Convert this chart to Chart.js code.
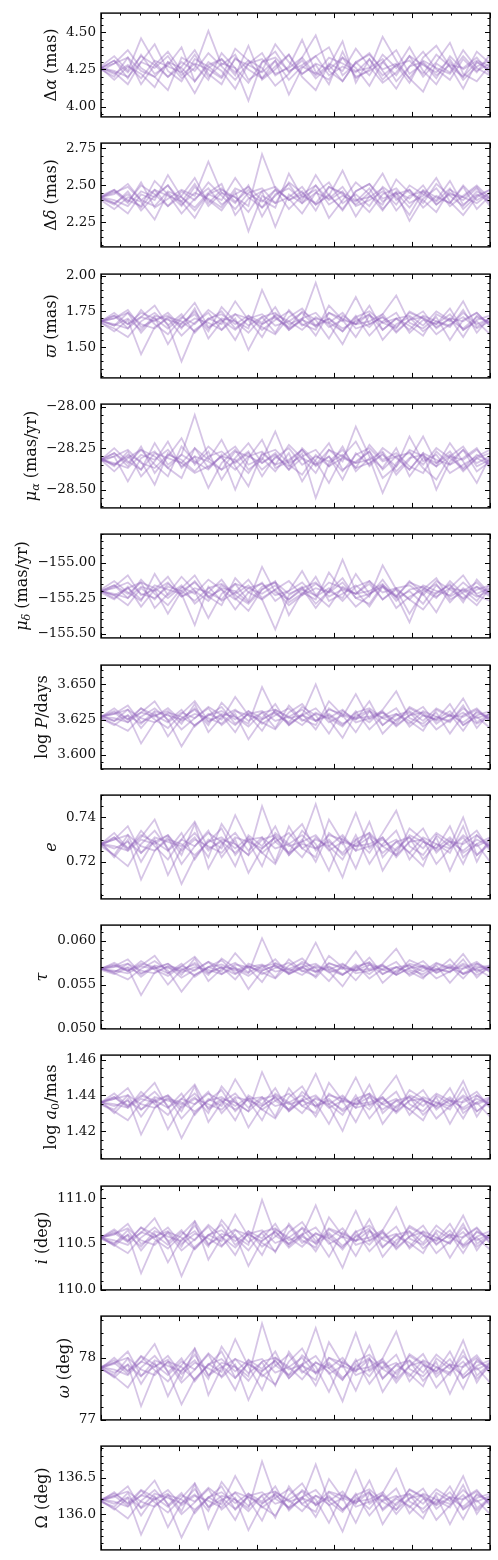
<!DOCTYPE html>
<html>
<head>
<meta charset="utf-8">
<script src="https://cdn.jsdelivr.net/npm/chart.js@4.4.0/dist/chart.umd.min.js"></script>
<style>
  body { margin: 0; background: #fff; }
  canvas { position: absolute; left: 0; }
</style>
</head>
<body>
<script>
// step numbers along the chain (x axis)
const steps = [0, 34, 69, 103, 138, 172, 207, 241, 276, 310, 345, 379, 414, 448, 483, 517, 552, 586, 621, 655, 690, 724, 759, 793, 828, 862, 897, 931, 966, 1000];

////////////////////////////// walkers, one array per walker
const dAlpha = [
  [4.26, 4.31, 4.19, 4.35, 4.22, 4.28, 4.40, 4.17, 4.30, 4.24, 4.12, 4.29, 4.36, 4.21, 4.27, 4.45, 4.23, 4.18, 4.33, 4.26, 4.14, 4.30, 4.38, 4.22, 4.29, 4.19, 4.34, 4.25, 4.31, 4.27],
  [4.25, 4.20, 4.33, 4.15, 4.28, 4.37, 4.24, 4.09, 4.26, 4.32, 4.21, 4.41, 4.18, 4.25, 4.35, 4.20, 4.11, 4.29, 4.24, 4.39, 4.27, 4.16, 4.23, 4.34, 4.20, 4.30, 4.43, 4.22, 4.17, 4.28],
  [4.27, 4.34, 4.24, 4.46, 4.30, 4.20, 4.27, 4.38, 4.22, 4.15, 4.33, 4.25, 4.19, 4.31, 4.08, 4.26, 4.34, 4.40, 4.21, 4.29, 4.36, 4.24, 4.12, 4.27, 4.37, 4.25, 4.18, 4.32, 4.23, 4.35],
  [4.26, 4.18, 4.27, 4.22, 4.13, 4.30, 4.19, 4.26, 4.51, 4.28, 4.35, 4.18, 4.24, 4.42, 4.30, 4.22, 4.28, 4.15, 4.37, 4.19, 4.25, 4.47, 4.31, 4.19, 4.10, 4.29, 4.23, 4.38, 4.26, 4.21],
  [4.24, 4.29, 4.38, 4.26, 4.20, 4.11, 4.33, 4.28, 4.18, 4.36, 4.26, 4.04, 4.30, 4.37, 4.23, 4.31, 4.19, 4.27, 4.44, 4.16, 4.32, 4.21, 4.28, 4.16, 4.33, 4.41, 4.27, 4.12, 4.30, 4.24],
  [4.26, 4.23, 4.15, 4.30, 4.42, 4.24, 4.17, 4.32, 4.27, 4.20, 4.39, 4.31, 4.26, 4.14, 4.22, 4.33, 4.48, 4.24, 4.17, 4.30, 4.21, 4.35, 4.26, 4.40, 4.24, 4.15, 4.30, 4.20, 4.37, 4.29],
  [4.26, 4.31, 4.23, 4.34, 4.28, 4.20, 4.30, 4.24, 4.36, 4.27, 4.18, 4.29, 4.32, 4.22, 4.26, 4.33, 4.21, 4.28, 4.17, 4.30, 4.35, 4.25, 4.29, 4.19, 4.31, 4.26, 4.22, 4.34, 4.24, 4.29],
  [4.26, 4.22, 4.28, 4.19, 4.31, 4.27, 4.23, 4.35, 4.20, 4.29, 4.26, 4.16, 4.30, 4.33, 4.24, 4.28, 4.34, 4.21, 4.27, 4.23, 4.32, 4.18, 4.28, 4.31, 4.22, 4.35, 4.27, 4.20, 4.30, 4.25],
  [4.26, 4.29, 4.33, 4.24, 4.20, 4.30, 4.26, 4.17, 4.28, 4.32, 4.23, 4.31, 4.19, 4.27, 4.35, 4.22, 4.29, 4.25, 4.33, 4.20, 4.24, 4.30, 4.21, 4.34, 4.28, 4.23, 4.32, 4.18, 4.27, 4.31],
  [4.26, 4.24, 4.20, 4.30, 4.26, 4.34, 4.21, 4.29, 4.25, 4.19, 4.32, 4.28, 4.23, 4.31, 4.18, 4.27, 4.22, 4.33, 4.29, 4.24, 4.26, 4.32, 4.17, 4.27, 4.30, 4.21, 4.28, 4.26, 4.33, 4.22]
];
const dDelta = [
  [2.41, 2.37, 2.46, 2.33, 2.43, 2.50, 2.39, 2.28, 2.44, 2.40, 2.55, 2.42, 2.35, 2.47, 2.41, 2.31, 2.45, 2.52, 2.38, 2.44, 2.36, 2.49, 2.42, 2.30, 2.46, 2.40, 2.53, 2.37, 2.44, 2.39],
  [2.42, 2.46, 2.38, 2.52, 2.35, 2.41, 2.47, 2.43, 2.66, 2.45, 2.38, 2.50, 2.29, 2.44, 2.48, 2.40, 2.57, 2.43, 2.34, 2.46, 2.51, 2.39, 2.45, 2.26, 2.41, 2.48, 2.36, 2.43, 2.50, 2.41],
  [2.40, 2.34, 2.42, 2.39, 2.27, 2.45, 2.36, 2.49, 2.40, 2.33, 2.46, 2.19, 2.43, 2.38, 2.52, 2.45, 2.37, 2.43, 2.60, 2.41, 2.32, 2.44, 2.48, 2.38, 2.43, 2.55, 2.39, 2.30, 2.42, 2.47],
  [2.42, 2.44, 2.51, 2.40, 2.47, 2.36, 2.43, 2.55, 2.38, 2.47, 2.42, 2.36, 2.71, 2.48, 2.40, 2.46, 2.33, 2.49, 2.44, 2.37, 2.45, 2.58, 2.40, 2.47, 2.35, 2.43, 2.38, 2.49, 2.34, 2.43],
  [2.41, 2.38, 2.31, 2.44, 2.40, 2.57, 2.42, 2.35, 2.45, 2.51, 2.30, 2.41, 2.46, 2.22, 2.44, 2.38, 2.50, 2.40, 2.46, 2.29, 2.43, 2.37, 2.54, 2.45, 2.40, 2.32, 2.47, 2.42, 2.38, 2.45],
  [2.43, 2.47, 2.40, 2.36, 2.53, 2.44, 2.31, 2.41, 2.48, 2.37, 2.44, 2.49, 2.40, 2.35, 2.58, 2.42, 2.47, 2.28, 2.40, 2.52, 2.44, 2.33, 2.46, 2.41, 2.50, 2.37, 2.45, 2.40, 2.48, 2.36],
  [2.42, 2.47, 2.39, 2.50, 2.44, 2.36, 2.46, 2.40, 2.52, 2.43, 2.34, 2.45, 2.48, 2.38, 2.42, 2.49, 2.37, 2.44, 2.33, 2.46, 2.51, 2.41, 2.45, 2.35, 2.47, 2.42, 2.38, 2.50, 2.40, 2.45],
  [2.42, 2.38, 2.44, 2.35, 2.47, 2.43, 2.39, 2.51, 2.36, 2.45, 2.42, 2.32, 2.46, 2.49, 2.40, 2.44, 2.50, 2.37, 2.43, 2.39, 2.48, 2.34, 2.44, 2.47, 2.38, 2.51, 2.43, 2.36, 2.46, 2.41],
  [2.42, 2.45, 2.49, 2.40, 2.36, 2.46, 2.42, 2.33, 2.44, 2.48, 2.39, 2.47, 2.35, 2.43, 2.51, 2.38, 2.45, 2.41, 2.49, 2.36, 2.40, 2.46, 2.37, 2.50, 2.44, 2.39, 2.48, 2.34, 2.43, 2.47],
  [2.42, 2.40, 2.36, 2.46, 2.42, 2.50, 2.37, 2.45, 2.41, 2.35, 2.48, 2.44, 2.39, 2.47, 2.34, 2.43, 2.38, 2.49, 2.45, 2.40, 2.42, 2.48, 2.33, 2.43, 2.46, 2.37, 2.44, 2.42, 2.49, 2.38]
];
const parallax = [
  [1.68, 1.72, 1.63, 1.76, 1.66, 1.59, 1.70, 1.81, 1.64, 1.69, 1.55, 1.72, 1.67, 1.78, 1.62, 1.70, 1.58, 1.74, 1.68, 1.85, 1.66, 1.71, 1.60, 1.69, 1.75, 1.63, 1.70, 1.57, 1.72, 1.67],
  [1.69, 1.65, 1.74, 1.60, 1.71, 1.52, 1.67, 1.73, 1.61, 1.78, 1.68, 1.63, 1.90, 1.70, 1.64, 1.75, 1.69, 1.56, 1.72, 1.66, 1.79, 1.62, 1.70, 1.65, 1.58, 1.73, 1.68, 1.82, 1.64, 1.70],
  [1.67, 1.61, 1.69, 1.45, 1.64, 1.70, 1.58, 1.67, 1.74, 1.62, 1.70, 1.48, 1.66, 1.71, 1.63, 1.69, 1.95, 1.67, 1.61, 1.72, 1.58, 1.68, 1.74, 1.60, 1.69, 1.66, 1.77, 1.62, 1.68, 1.59],
  [1.68, 1.74, 1.66, 1.71, 1.79, 1.65, 1.73, 1.60, 1.70, 1.66, 1.82, 1.69, 1.57, 1.73, 1.68, 1.62, 1.71, 1.66, 1.52, 1.70, 1.64, 1.73, 1.86, 1.67, 1.63, 1.71, 1.55, 1.69, 1.74, 1.65],
  [1.67, 1.63, 1.57, 1.68, 1.74, 1.66, 1.40, 1.62, 1.69, 1.75, 1.63, 1.70, 1.64, 1.59, 1.71, 1.77, 1.65, 1.70, 1.63, 1.68, 1.73, 1.55, 1.66, 1.71, 1.61, 1.68, 1.64, 1.76, 1.60, 1.71],
  [1.68, 1.70, 1.76, 1.64, 1.69, 1.72, 1.63, 1.77, 1.56, 1.68, 1.73, 1.65, 1.71, 1.60, 1.76, 1.66, 1.62, 1.79, 1.69, 1.57, 1.72, 1.67, 1.63, 1.75, 1.70, 1.59, 1.66, 1.71, 1.63, 1.68],
  [1.68, 1.72, 1.66, 1.74, 1.70, 1.63, 1.71, 1.66, 1.76, 1.69, 1.62, 1.70, 1.73, 1.65, 1.68, 1.74, 1.64, 1.70, 1.61, 1.71, 1.75, 1.67, 1.70, 1.62, 1.72, 1.68, 1.65, 1.74, 1.66, 1.70],
  [1.68, 1.65, 1.70, 1.62, 1.72, 1.69, 1.66, 1.75, 1.63, 1.70, 1.68, 1.60, 1.71, 1.74, 1.66, 1.70, 1.74, 1.64, 1.69, 1.66, 1.73, 1.62, 1.70, 1.72, 1.65, 1.75, 1.69, 1.63, 1.71, 1.67],
  [1.68, 1.70, 1.74, 1.66, 1.63, 1.71, 1.68, 1.61, 1.70, 1.73, 1.66, 1.72, 1.62, 1.69, 1.75, 1.65, 1.70, 1.67, 1.74, 1.63, 1.66, 1.71, 1.64, 1.74, 1.70, 1.66, 1.73, 1.62, 1.69, 1.72],
  [1.68, 1.66, 1.63, 1.71, 1.68, 1.74, 1.64, 1.70, 1.67, 1.62, 1.73, 1.70, 1.66, 1.72, 1.62, 1.69, 1.65, 1.74, 1.70, 1.66, 1.68, 1.73, 1.61, 1.69, 1.71, 1.64, 1.70, 1.68, 1.74, 1.65]
];
const pmRa = [
  [-28.32, -28.28, -28.36, -28.24, -28.40, -28.30, -28.19, -28.35, -28.27, -28.44, -28.31, -28.22, -28.34, -28.29, -28.38, -28.25, -28.33, -28.46, -28.30, -28.21, -28.36, -28.28, -28.41, -28.32, -28.18, -28.34, -28.29, -28.39, -28.31, -28.35],
  [-28.31, -28.36, -28.27, -28.42, -28.33, -28.21, -28.37, -28.30, -28.49, -28.34, -28.26, -28.38, -28.32, -28.15, -28.35, -28.41, -28.29, -28.36, -28.24, -28.39, -28.31, -28.52, -28.34, -28.27, -28.37, -28.44, -28.30, -28.24, -28.36, -28.32],
  [-28.33, -28.30, -28.45, -28.31, -28.27, -28.37, -28.43, -28.25, -28.32, -28.20, -28.36, -28.48, -28.28, -28.35, -28.23, -28.31, -28.40, -28.26, -28.33, -28.12, -28.30, -28.37, -28.25, -28.42, -28.31, -28.36, -28.22, -28.33, -28.46, -28.30],
  [-28.32, -28.25, -28.33, -28.38, -28.22, -28.35, -28.29, -28.05, -28.31, -28.38, -28.33, -28.27, -28.42, -28.30, -28.36, -28.28, -28.55, -28.34, -28.29, -28.37, -28.23, -28.32, -28.28, -28.36, -28.40, -28.27, -28.35, -28.31, -28.25, -28.37],
  [-28.31, -28.35, -28.29, -28.33, -28.47, -28.28, -28.34, -28.40, -28.36, -28.30, -28.24, -28.35, -28.31, -28.39, -28.28, -28.45, -28.32, -28.22, -28.38, -28.33, -28.27, -28.43, -28.36, -28.18, -28.33, -28.29, -28.40, -28.35, -28.30, -28.26],
  [-28.32, -28.39, -28.31, -28.26, -28.35, -28.42, -28.24, -28.33, -28.38, -28.29, -28.50, -28.31, -28.20, -28.37, -28.33, -28.26, -28.35, -28.30, -28.44, -28.28, -28.35, -28.25, -28.31, -28.38, -28.28, -28.50, -28.33, -28.26, -28.39, -28.33],
  [-28.32, -28.28, -28.34, -28.26, -28.30, -28.37, -28.29, -28.34, -28.24, -28.31, -28.38, -28.30, -28.27, -28.35, -28.32, -28.26, -28.36, -28.30, -28.39, -28.29, -28.25, -28.33, -28.30, -28.38, -28.28, -28.32, -28.35, -28.26, -28.34, -28.30],
  [-28.32, -28.35, -28.30, -28.38, -28.28, -28.31, -28.34, -28.25, -28.37, -28.30, -28.32, -28.40, -28.29, -28.26, -28.34, -28.30, -28.26, -28.36, -28.31, -28.34, -28.27, -28.38, -28.30, -28.28, -28.35, -28.25, -28.31, -28.37, -28.29, -28.33],
  [-28.32, -28.30, -28.26, -28.34, -28.37, -28.29, -28.32, -28.39, -28.30, -28.27, -28.34, -28.28, -28.38, -28.31, -28.25, -28.35, -28.30, -28.33, -28.26, -28.37, -28.34, -28.29, -28.36, -28.26, -28.30, -28.34, -28.27, -28.38, -28.31, -28.28],
  [-28.32, -28.34, -28.37, -28.29, -28.32, -28.26, -28.36, -28.30, -28.33, -28.38, -28.27, -28.30, -28.34, -28.28, -28.38, -28.31, -28.35, -28.26, -28.30, -28.34, -28.32, -28.27, -28.39, -28.31, -28.29, -28.36, -28.30, -28.32, -28.26, -28.35]
];
const pmDec = [
  [-155.20, -155.16, -155.25, -155.12, -155.22, -155.30, -155.18, -155.09, -155.24, -155.19, -155.33, -155.21, -155.14, -155.27, -155.20, -155.06, -155.23, -155.31, -155.17, -155.22, -155.13, -155.26, -155.19, -155.36, -155.21, -155.15, -155.28, -155.18, -155.24, -155.20],
  [-155.21, -155.26, -155.17, -155.31, -155.19, -155.10, -155.24, -155.20, -155.39, -155.22, -155.15, -155.27, -155.03, -155.21, -155.26, -155.18, -155.32, -155.20, -155.11, -155.25, -155.29, -155.16, -155.23, -155.42, -155.19, -155.25, -155.13, -155.22, -155.30, -155.18],
  [-155.19, -155.13, -155.21, -155.27, -155.08, -155.23, -155.16, -155.29, -155.21, -155.12, -155.25, -155.34, -155.19, -155.14, -155.28, -155.22, -155.15, -155.21, -154.98, -155.20, -155.31, -155.17, -155.24, -155.13, -155.22, -155.35, -155.18, -155.09, -155.23, -155.27],
  [-155.20, -155.23, -155.30, -155.18, -155.26, -155.15, -155.22, -155.44, -155.17, -155.27, -155.21, -155.12, -155.25, -155.19, -155.30, -155.23, -155.10, -155.27, -155.22, -155.16, -155.24, -155.02, -155.19, -155.26, -155.33, -155.21, -155.16, -155.28, -155.12, -155.22],
  [-155.21, -155.17, -155.09, -155.23, -155.19, -155.36, -155.20, -155.14, -155.24, -155.30, -155.11, -155.21, -155.26, -155.47, -155.23, -155.17, -155.29, -155.20, -155.25, -155.08, -155.22, -155.16, -155.32, -155.24, -155.19, -155.11, -155.26, -155.21, -155.17, -155.24],
  [-155.20, -155.25, -155.18, -155.14, -155.32, -155.22, -155.10, -155.20, -155.27, -155.16, -155.23, -155.29, -155.19, -155.13, -155.37, -155.21, -155.26, -155.07, -155.20, -155.31, -155.23, -155.12, -155.25, -155.20, -155.29, -155.16, -155.24, -155.19, -155.27, -155.15],
  [-155.20, -155.16, -155.22, -155.14, -155.18, -155.25, -155.17, -155.22, -155.12, -155.19, -155.26, -155.18, -155.15, -155.23, -155.20, -155.14, -155.24, -155.18, -155.27, -155.17, -155.13, -155.21, -155.18, -155.26, -155.16, -155.20, -155.23, -155.14, -155.22, -155.18],
  [-155.20, -155.23, -155.18, -155.26, -155.16, -155.19, -155.22, -155.13, -155.25, -155.18, -155.20, -155.28, -155.17, -155.14, -155.22, -155.18, -155.14, -155.24, -155.19, -155.22, -155.15, -155.26, -155.18, -155.16, -155.23, -155.13, -155.19, -155.25, -155.17, -155.21],
  [-155.20, -155.18, -155.14, -155.22, -155.25, -155.17, -155.20, -155.27, -155.18, -155.15, -155.22, -155.16, -155.26, -155.19, -155.13, -155.23, -155.18, -155.21, -155.14, -155.25, -155.22, -155.17, -155.24, -155.14, -155.18, -155.22, -155.15, -155.26, -155.19, -155.16],
  [-155.20, -155.22, -155.25, -155.17, -155.20, -155.14, -155.24, -155.18, -155.21, -155.26, -155.15, -155.18, -155.22, -155.16, -155.26, -155.19, -155.23, -155.14, -155.18, -155.22, -155.20, -155.15, -155.27, -155.19, -155.17, -155.24, -155.18, -155.20, -155.14, -155.23]
];
const logP = [
  [3.627, 3.630, 3.623, 3.633, 3.625, 3.619, 3.629, 3.638, 3.624, 3.628, 3.616, 3.631, 3.626, 3.636, 3.621, 3.629, 3.618, 3.633, 3.627, 3.643, 3.625, 3.630, 3.620, 3.628, 3.634, 3.622, 3.629, 3.617, 3.631, 3.626],
  [3.628, 3.624, 3.632, 3.619, 3.630, 3.613, 3.626, 3.632, 3.621, 3.637, 3.627, 3.622, 3.648, 3.629, 3.623, 3.634, 3.628, 3.615, 3.631, 3.625, 3.638, 3.621, 3.629, 3.624, 3.617, 3.632, 3.627, 3.640, 3.623, 3.629],
  [3.626, 3.621, 3.628, 3.608, 3.623, 3.629, 3.618, 3.626, 3.633, 3.621, 3.629, 3.611, 3.625, 3.630, 3.622, 3.628, 3.650, 3.626, 3.620, 3.631, 3.618, 3.627, 3.633, 3.620, 3.628, 3.625, 3.636, 3.621, 3.627, 3.619],
  [3.627, 3.633, 3.625, 3.630, 3.638, 3.624, 3.632, 3.620, 3.629, 3.625, 3.641, 3.628, 3.617, 3.632, 3.627, 3.621, 3.630, 3.625, 3.612, 3.629, 3.623, 3.632, 3.645, 3.626, 3.622, 3.630, 3.615, 3.628, 3.633, 3.624],
  [3.626, 3.622, 3.617, 3.627, 3.633, 3.625, 3.606, 3.621, 3.628, 3.634, 3.622, 3.629, 3.623, 3.618, 3.630, 3.636, 3.624, 3.629, 3.622, 3.627, 3.632, 3.615, 3.625, 3.630, 3.620, 3.627, 3.623, 3.635, 3.619, 3.630],
  [3.627, 3.629, 3.635, 3.623, 3.628, 3.631, 3.622, 3.636, 3.616, 3.627, 3.632, 3.624, 3.630, 3.619, 3.635, 3.625, 3.621, 3.638, 3.628, 3.616, 3.631, 3.626, 3.622, 3.634, 3.629, 3.618, 3.625, 3.630, 3.622, 3.627],
  [3.627, 3.631, 3.625, 3.633, 3.628, 3.623, 3.630, 3.626, 3.634, 3.628, 3.621, 3.629, 3.631, 3.624, 3.627, 3.632, 3.624, 3.628, 3.621, 3.630, 3.633, 3.626, 3.629, 3.622, 3.631, 3.627, 3.624, 3.633, 3.626, 3.629],
  [3.627, 3.624, 3.628, 3.622, 3.631, 3.628, 3.625, 3.633, 3.623, 3.629, 3.627, 3.620, 3.630, 3.632, 3.626, 3.628, 3.633, 3.623, 3.628, 3.625, 3.631, 3.621, 3.628, 3.631, 3.624, 3.633, 3.628, 3.623, 3.630, 3.626],
  [3.627, 3.629, 3.632, 3.626, 3.623, 3.630, 3.627, 3.621, 3.628, 3.631, 3.625, 3.631, 3.622, 3.628, 3.633, 3.624, 3.629, 3.626, 3.632, 3.623, 3.626, 3.630, 3.624, 3.633, 3.628, 3.625, 3.631, 3.621, 3.628, 3.631],
  [3.627, 3.626, 3.623, 3.630, 3.627, 3.633, 3.624, 3.629, 3.626, 3.622, 3.631, 3.628, 3.625, 3.631, 3.621, 3.628, 3.624, 3.632, 3.629, 3.626, 3.627, 3.631, 3.621, 3.628, 3.630, 3.624, 3.628, 3.627, 3.632, 3.624]
];
const ecc = [
  [0.728, 0.723, 0.732, 0.720, 0.730, 0.714, 0.726, 0.731, 0.722, 0.737, 0.728, 0.723, 0.745, 0.729, 0.724, 0.734, 0.728, 0.716, 0.731, 0.725, 0.738, 0.722, 0.729, 0.724, 0.718, 0.732, 0.727, 0.740, 0.723, 0.729],
  [0.727, 0.731, 0.725, 0.734, 0.727, 0.721, 0.730, 0.738, 0.726, 0.729, 0.718, 0.732, 0.727, 0.736, 0.723, 0.730, 0.720, 0.733, 0.728, 0.742, 0.726, 0.731, 0.722, 0.729, 0.735, 0.724, 0.730, 0.719, 0.732, 0.727],
  [0.728, 0.733, 0.726, 0.731, 0.739, 0.725, 0.733, 0.721, 0.730, 0.726, 0.741, 0.729, 0.718, 0.733, 0.728, 0.722, 0.731, 0.726, 0.713, 0.730, 0.724, 0.733, 0.743, 0.727, 0.723, 0.731, 0.716, 0.729, 0.734, 0.725],
  [0.729, 0.722, 0.730, 0.712, 0.725, 0.731, 0.719, 0.727, 0.734, 0.722, 0.730, 0.715, 0.726, 0.731, 0.723, 0.729, 0.746, 0.727, 0.721, 0.732, 0.719, 0.728, 0.734, 0.721, 0.729, 0.726, 0.736, 0.722, 0.728, 0.720],
  [0.728, 0.730, 0.736, 0.724, 0.729, 0.732, 0.723, 0.737, 0.717, 0.728, 0.733, 0.725, 0.731, 0.720, 0.736, 0.726, 0.722, 0.739, 0.729, 0.717, 0.732, 0.727, 0.723, 0.735, 0.730, 0.719, 0.726, 0.731, 0.723, 0.728],
  [0.727, 0.723, 0.718, 0.728, 0.734, 0.726, 0.710, 0.722, 0.729, 0.735, 0.723, 0.730, 0.724, 0.719, 0.731, 0.737, 0.725, 0.730, 0.723, 0.728, 0.733, 0.716, 0.726, 0.731, 0.721, 0.728, 0.724, 0.736, 0.720, 0.731],
  [0.728, 0.731, 0.726, 0.732, 0.729, 0.725, 0.730, 0.727, 0.733, 0.729, 0.724, 0.730, 0.731, 0.726, 0.728, 0.732, 0.726, 0.729, 0.724, 0.730, 0.733, 0.727, 0.730, 0.724, 0.731, 0.728, 0.726, 0.732, 0.727, 0.730],
  [0.728, 0.726, 0.729, 0.724, 0.731, 0.729, 0.727, 0.733, 0.725, 0.730, 0.728, 0.723, 0.730, 0.732, 0.727, 0.729, 0.732, 0.725, 0.729, 0.727, 0.731, 0.724, 0.729, 0.731, 0.726, 0.733, 0.729, 0.725, 0.730, 0.727],
  [0.728, 0.730, 0.732, 0.727, 0.725, 0.730, 0.728, 0.723, 0.729, 0.731, 0.726, 0.731, 0.724, 0.729, 0.733, 0.726, 0.730, 0.727, 0.732, 0.725, 0.727, 0.730, 0.725, 0.732, 0.729, 0.726, 0.731, 0.724, 0.728, 0.731],
  [0.728, 0.727, 0.725, 0.730, 0.728, 0.732, 0.725, 0.730, 0.727, 0.724, 0.731, 0.729, 0.726, 0.731, 0.724, 0.728, 0.726, 0.732, 0.730, 0.727, 0.728, 0.731, 0.723, 0.729, 0.730, 0.725, 0.729, 0.728, 0.732, 0.726]
];
const tau = [
  [0.0569, 0.0573, 0.0565, 0.0577, 0.0567, 0.0560, 0.0571, 0.0582, 0.0564, 0.0570, 0.0556, 0.0574, 0.0568, 0.0579, 0.0562, 0.0571, 0.0558, 0.0575, 0.0568, 0.0588, 0.0566, 0.0572, 0.0561, 0.0569, 0.0577, 0.0563, 0.0571, 0.0557, 0.0574, 0.0568],
  [0.0568, 0.0564, 0.0574, 0.0559, 0.0571, 0.0550, 0.0567, 0.0573, 0.0561, 0.0580, 0.0569, 0.0563, 0.0603, 0.0570, 0.0564, 0.0576, 0.0569, 0.0554, 0.0573, 0.0566, 0.0581, 0.0562, 0.0570, 0.0565, 0.0557, 0.0574, 0.0568, 0.0585, 0.0564, 0.0571],
  [0.0567, 0.0562, 0.0569, 0.0538, 0.0564, 0.0571, 0.0558, 0.0567, 0.0576, 0.0562, 0.0570, 0.0545, 0.0566, 0.0572, 0.0563, 0.0569, 0.0598, 0.0567, 0.0561, 0.0573, 0.0557, 0.0568, 0.0576, 0.0560, 0.0569, 0.0566, 0.0579, 0.0562, 0.0568, 0.0559],
  [0.0568, 0.0575, 0.0566, 0.0572, 0.0583, 0.0563, 0.0574, 0.0559, 0.0570, 0.0565, 0.0586, 0.0569, 0.0553, 0.0575, 0.0568, 0.0561, 0.0572, 0.0565, 0.0548, 0.0570, 0.0562, 0.0574, 0.0591, 0.0567, 0.0562, 0.0572, 0.0552, 0.0569, 0.0576, 0.0564],
  [0.0569, 0.0563, 0.0556, 0.0568, 0.0577, 0.0566, 0.0542, 0.0561, 0.0570, 0.0578, 0.0563, 0.0571, 0.0564, 0.0557, 0.0572, 0.0580, 0.0565, 0.0571, 0.0562, 0.0569, 0.0576, 0.0552, 0.0566, 0.0572, 0.0559, 0.0568, 0.0564, 0.0579, 0.0558, 0.0572],
  [0.0568, 0.0571, 0.0579, 0.0563, 0.0569, 0.0574, 0.0561, 0.0580, 0.0554, 0.0568, 0.0575, 0.0564, 0.0572, 0.0558, 0.0579, 0.0566, 0.0560, 0.0583, 0.0570, 0.0555, 0.0573, 0.0567, 0.0562, 0.0578, 0.0571, 0.0557, 0.0565, 0.0572, 0.0561, 0.0569],
  [0.0568, 0.0572, 0.0566, 0.0574, 0.0570, 0.0563, 0.0571, 0.0566, 0.0576, 0.0569, 0.0562, 0.0570, 0.0573, 0.0565, 0.0568, 0.0574, 0.0564, 0.0570, 0.0561, 0.0571, 0.0575, 0.0567, 0.0570, 0.0562, 0.0572, 0.0568, 0.0565, 0.0574, 0.0566, 0.0570],
  [0.0568, 0.0565, 0.0570, 0.0562, 0.0572, 0.0569, 0.0566, 0.0575, 0.0563, 0.0570, 0.0568, 0.0560, 0.0571, 0.0574, 0.0566, 0.0570, 0.0574, 0.0564, 0.0569, 0.0566, 0.0573, 0.0562, 0.0570, 0.0572, 0.0565, 0.0575, 0.0569, 0.0563, 0.0571, 0.0567],
  [0.0568, 0.0570, 0.0574, 0.0566, 0.0563, 0.0571, 0.0568, 0.0561, 0.0570, 0.0573, 0.0566, 0.0572, 0.0562, 0.0569, 0.0575, 0.0565, 0.0570, 0.0567, 0.0574, 0.0563, 0.0566, 0.0571, 0.0564, 0.0574, 0.0570, 0.0566, 0.0573, 0.0562, 0.0569, 0.0572],
  [0.0568, 0.0566, 0.0563, 0.0571, 0.0568, 0.0574, 0.0564, 0.0570, 0.0567, 0.0562, 0.0573, 0.0570, 0.0566, 0.0572, 0.0562, 0.0569, 0.0565, 0.0574, 0.0570, 0.0566, 0.0568, 0.0573, 0.0561, 0.0569, 0.0571, 0.0564, 0.0570, 0.0568, 0.0574, 0.0565]
];
const logA0 = [
  [1.436, 1.439, 1.433, 1.442, 1.435, 1.429, 1.438, 1.446, 1.432, 1.437, 1.426, 1.440, 1.435, 1.444, 1.431, 1.438, 1.428, 1.441, 1.436, 1.450, 1.434, 1.439, 1.430, 1.437, 1.443, 1.432, 1.438, 1.427, 1.440, 1.435],
  [1.435, 1.432, 1.440, 1.428, 1.438, 1.421, 1.434, 1.439, 1.430, 1.445, 1.436, 1.431, 1.453, 1.437, 1.432, 1.442, 1.436, 1.424, 1.439, 1.433, 1.446, 1.430, 1.437, 1.432, 1.426, 1.440, 1.435, 1.448, 1.431, 1.437],
  [1.437, 1.430, 1.438, 1.418, 1.433, 1.439, 1.427, 1.435, 1.442, 1.430, 1.438, 1.422, 1.434, 1.439, 1.431, 1.437, 1.452, 1.435, 1.429, 1.440, 1.427, 1.436, 1.442, 1.429, 1.437, 1.434, 1.444, 1.430, 1.436, 1.428],
  [1.436, 1.441, 1.434, 1.439, 1.447, 1.433, 1.441, 1.429, 1.438, 1.434, 1.449, 1.437, 1.426, 1.441, 1.436, 1.430, 1.439, 1.434, 1.420, 1.438, 1.432, 1.441, 1.451, 1.435, 1.431, 1.439, 1.424, 1.437, 1.442, 1.433],
  [1.435, 1.431, 1.426, 1.436, 1.442, 1.434, 1.416, 1.430, 1.437, 1.443, 1.431, 1.438, 1.432, 1.427, 1.439, 1.445, 1.433, 1.438, 1.431, 1.436, 1.441, 1.424, 1.434, 1.439, 1.429, 1.436, 1.432, 1.444, 1.428, 1.439],
  [1.436, 1.438, 1.444, 1.432, 1.437, 1.440, 1.431, 1.445, 1.425, 1.436, 1.441, 1.433, 1.439, 1.428, 1.444, 1.434, 1.430, 1.447, 1.437, 1.425, 1.440, 1.435, 1.431, 1.443, 1.438, 1.427, 1.434, 1.439, 1.431, 1.436],
  [1.436, 1.439, 1.434, 1.440, 1.437, 1.433, 1.438, 1.435, 1.441, 1.437, 1.432, 1.438, 1.439, 1.434, 1.436, 1.440, 1.434, 1.437, 1.432, 1.438, 1.441, 1.435, 1.438, 1.432, 1.439, 1.436, 1.434, 1.440, 1.435, 1.438],
  [1.436, 1.434, 1.437, 1.432, 1.439, 1.437, 1.435, 1.441, 1.433, 1.438, 1.436, 1.431, 1.438, 1.440, 1.435, 1.437, 1.440, 1.433, 1.437, 1.435, 1.439, 1.432, 1.437, 1.439, 1.434, 1.441, 1.437, 1.433, 1.438, 1.435],
  [1.436, 1.438, 1.440, 1.435, 1.433, 1.438, 1.436, 1.431, 1.437, 1.439, 1.434, 1.439, 1.432, 1.437, 1.441, 1.434, 1.438, 1.435, 1.440, 1.433, 1.435, 1.438, 1.433, 1.440, 1.437, 1.434, 1.439, 1.432, 1.436, 1.439],
  [1.436, 1.435, 1.433, 1.438, 1.436, 1.440, 1.433, 1.438, 1.435, 1.432, 1.439, 1.437, 1.434, 1.439, 1.432, 1.437, 1.434, 1.440, 1.438, 1.435, 1.436, 1.439, 1.431, 1.437, 1.438, 1.433, 1.437, 1.436, 1.440, 1.434]
];
const incl = [
  [110.57, 110.62, 110.52, 110.68, 110.55, 110.45, 110.60, 110.75, 110.50, 110.58, 110.38, 110.64, 110.56, 110.72, 110.48, 110.61, 110.42, 110.66, 110.57, 110.86, 110.53, 110.62, 110.46, 110.58, 110.70, 110.49, 110.61, 110.40, 110.64, 110.56],
  [110.56, 110.50, 110.65, 110.43, 110.61, 110.30, 110.55, 110.64, 110.47, 110.76, 110.58, 110.49, 110.98, 110.59, 110.50, 110.68, 110.58, 110.36, 110.63, 110.53, 110.77, 110.47, 110.59, 110.51, 110.40, 110.65, 110.56, 110.81, 110.50, 110.60],
  [110.58, 110.48, 110.60, 110.18, 110.52, 110.62, 110.43, 110.55, 110.69, 110.48, 110.60, 110.26, 110.54, 110.63, 110.50, 110.59, 110.92, 110.56, 110.46, 110.64, 110.42, 110.57, 110.69, 110.45, 110.59, 110.54, 110.72, 110.48, 110.57, 110.44],
  [110.57, 110.66, 110.54, 110.62, 110.78, 110.52, 110.65, 110.45, 110.60, 110.53, 110.82, 110.58, 110.38, 110.66, 110.57, 110.47, 110.62, 110.53, 110.24, 110.60, 110.49, 110.65, 110.90, 110.56, 110.49, 110.62, 110.35, 110.58, 110.68, 110.52],
  [110.56, 110.49, 110.40, 110.57, 110.68, 110.54, 110.15, 110.47, 110.59, 110.71, 110.49, 110.61, 110.51, 110.42, 110.63, 110.74, 110.53, 110.62, 110.48, 110.58, 110.67, 110.36, 110.54, 110.63, 110.45, 110.57, 110.50, 110.72, 110.43, 110.62],
  [110.57, 110.60, 110.72, 110.50, 110.58, 110.64, 110.47, 110.74, 110.33, 110.57, 110.66, 110.52, 110.62, 110.41, 110.72, 110.54, 110.46, 110.79, 110.59, 110.37, 110.64, 110.55, 110.48, 110.70, 110.61, 110.40, 110.53, 110.63, 110.47, 110.58],
  [110.57, 110.64, 110.53, 110.68, 110.60, 110.49, 110.63, 110.54, 110.71, 110.58, 110.46, 110.61, 110.65, 110.51, 110.57, 110.67, 110.50, 110.60, 110.44, 110.63, 110.70, 110.56, 110.61, 110.47, 110.64, 110.57, 110.51, 110.68, 110.54, 110.61],
  [110.57, 110.51, 110.60, 110.47, 110.64, 110.58, 110.53, 110.70, 110.49, 110.61, 110.57, 110.43, 110.63, 110.67, 110.54, 110.60, 110.68, 110.50, 110.58, 110.53, 110.65, 110.46, 110.60, 110.64, 110.51, 110.70, 110.58, 110.49, 110.63, 110.56],
  [110.57, 110.61, 110.67, 110.54, 110.49, 110.63, 110.57, 110.44, 110.60, 110.65, 110.53, 110.64, 110.47, 110.58, 110.70, 110.51, 110.61, 110.56, 110.67, 110.49, 110.54, 110.63, 110.50, 110.68, 110.60, 110.53, 110.65, 110.46, 110.58, 110.64],
  [110.57, 110.54, 110.49, 110.63, 110.57, 110.68, 110.50, 110.61, 110.56, 110.47, 110.65, 110.60, 110.53, 110.64, 110.46, 110.58, 110.51, 110.67, 110.61, 110.54, 110.57, 110.65, 110.44, 110.58, 110.63, 110.50, 110.60, 110.57, 110.67, 110.51]
];
const omega = [
  [77.83, 77.92, 77.74, 78.02, 77.80, 77.62, 77.88, 78.15, 77.71, 77.86, 77.48, 77.97, 77.82, 78.10, 77.67, 77.90, 77.55, 78.00, 77.85, 78.40, 77.78, 77.93, 77.60, 77.87, 78.06, 77.69, 77.90, 77.50, 77.97, 77.82],
  [77.82, 77.72, 77.99, 77.58, 77.92, 77.38, 77.80, 77.96, 77.66, 78.18, 77.86, 77.70, 78.55, 77.88, 77.72, 78.04, 77.86, 77.45, 77.95, 77.78, 78.20, 77.66, 77.88, 77.74, 77.54, 77.99, 77.82, 78.28, 77.71, 77.90],
  [77.84, 77.68, 77.89, 77.22, 77.76, 77.93, 77.60, 77.81, 78.05, 77.68, 77.89, 77.32, 77.79, 77.95, 77.72, 77.87, 78.48, 77.83, 77.64, 77.97, 77.58, 77.85, 78.05, 77.62, 77.88, 77.78, 78.10, 77.68, 77.84, 77.60],
  [77.83, 78.00, 77.79, 77.93, 78.22, 77.76, 77.99, 77.62, 77.90, 77.77, 78.30, 77.86, 77.48, 78.00, 77.85, 77.65, 77.93, 77.77, 77.30, 77.90, 77.70, 77.99, 78.42, 77.82, 77.70, 77.93, 77.42, 77.87, 78.04, 77.76],
  [77.82, 77.70, 77.52, 77.84, 78.03, 77.78, 77.25, 77.66, 77.88, 78.10, 77.68, 77.91, 77.73, 77.57, 77.94, 78.15, 77.76, 77.92, 77.68, 77.85, 78.00, 77.45, 77.79, 77.95, 77.63, 77.85, 77.72, 78.12, 77.60, 77.93],
  [77.84, 77.90, 78.10, 77.71, 77.86, 77.97, 77.66, 78.14, 77.40, 77.84, 77.98, 77.75, 77.93, 77.55, 78.10, 77.79, 77.64, 78.25, 77.89, 77.47, 77.97, 77.82, 77.68, 78.06, 77.91, 77.52, 77.77, 77.94, 77.66, 77.86],
  [77.85, 77.96, 77.78, 78.03, 77.89, 77.72, 77.94, 77.81, 78.07, 77.87, 77.67, 77.92, 77.98, 77.76, 77.85, 78.00, 77.74, 77.89, 77.65, 77.94, 78.05, 77.83, 77.92, 77.70, 77.96, 77.85, 77.76, 78.03, 77.81, 77.92],
  [77.85, 77.76, 77.89, 77.70, 77.96, 77.87, 77.78, 78.05, 77.72, 77.92, 77.85, 77.63, 77.94, 78.00, 77.81, 77.89, 78.03, 77.74, 77.87, 77.78, 77.98, 77.67, 77.89, 77.96, 77.76, 78.05, 77.87, 77.72, 77.94, 77.83],
  [77.85, 77.92, 78.00, 77.81, 77.72, 77.94, 77.85, 77.65, 77.89, 77.98, 77.78, 77.96, 77.70, 77.87, 78.05, 77.76, 77.92, 77.83, 78.00, 77.72, 77.81, 77.94, 77.74, 78.03, 77.89, 77.78, 77.98, 77.67, 77.87, 77.96],
  [77.85, 77.81, 77.72, 77.94, 77.85, 78.03, 77.74, 77.92, 77.83, 77.70, 77.98, 77.89, 77.78, 77.96, 77.67, 77.87, 77.76, 78.00, 77.92, 77.81, 77.85, 77.98, 77.65, 77.87, 77.94, 77.74, 77.89, 77.85, 78.00, 77.76]
];
const bigOmega = [
  [136.18, 136.25, 136.11, 136.32, 136.16, 136.02, 136.22, 136.42, 136.09, 136.20, 135.92, 136.28, 136.17, 136.38, 136.05, 136.23, 135.96, 136.30, 136.19, 136.60, 136.14, 136.26, 136.00, 136.21, 136.35, 136.07, 136.23, 135.93, 136.28, 136.18],
  [136.17, 136.10, 136.29, 135.98, 136.24, 135.82, 136.15, 136.27, 136.04, 136.44, 136.20, 136.08, 136.72, 136.21, 136.09, 136.33, 136.20, 135.88, 136.27, 136.14, 136.46, 136.05, 136.21, 136.11, 135.94, 136.29, 136.18, 136.52, 136.08, 136.22],
  [136.19, 136.06, 136.22, 135.72, 136.12, 136.25, 136.00, 136.16, 136.34, 136.06, 136.22, 135.78, 136.14, 136.26, 136.09, 136.20, 136.68, 136.17, 136.03, 136.28, 135.98, 136.19, 136.35, 136.01, 136.21, 136.13, 136.38, 136.06, 136.19, 136.00],
  [136.18, 136.30, 136.14, 136.25, 136.46, 136.12, 136.29, 136.01, 136.23, 136.13, 136.52, 136.20, 135.91, 136.30, 136.19, 136.04, 136.25, 136.13, 135.76, 136.23, 136.07, 136.29, 136.62, 136.17, 136.07, 136.25, 135.86, 136.21, 136.33, 136.12],
  [136.17, 136.08, 135.94, 136.18, 136.33, 136.14, 135.68, 136.04, 136.22, 136.38, 136.06, 136.24, 136.10, 135.98, 136.26, 136.42, 136.12, 136.25, 136.06, 136.19, 136.31, 135.86, 136.15, 136.27, 136.02, 136.19, 136.09, 136.40, 136.00, 136.25],
  [136.19, 136.23, 136.38, 136.08, 136.20, 136.28, 136.04, 136.41, 135.80, 136.19, 136.29, 136.11, 136.25, 135.95, 136.38, 136.13, 136.03, 136.48, 136.22, 135.88, 136.28, 136.17, 136.06, 136.34, 136.24, 135.92, 136.12, 136.26, 136.05, 136.20],
  [136.20, 136.28, 136.15, 136.33, 136.23, 136.10, 136.26, 136.17, 136.36, 136.22, 136.07, 136.25, 136.30, 136.14, 136.20, 136.31, 136.12, 136.23, 136.06, 136.26, 136.34, 136.18, 136.25, 136.09, 136.28, 136.20, 136.14, 136.33, 136.17, 136.25],
  [136.20, 136.14, 136.23, 136.09, 136.28, 136.22, 136.15, 136.34, 136.10, 136.25, 136.20, 136.04, 136.26, 136.31, 136.17, 136.23, 136.33, 136.12, 136.22, 136.15, 136.30, 136.07, 136.23, 136.28, 136.14, 136.34, 136.22, 136.10, 136.26, 136.18],
  [136.20, 136.25, 136.31, 136.17, 136.10, 136.26, 136.20, 136.06, 136.23, 136.30, 136.15, 136.28, 136.09, 136.22, 136.34, 136.14, 136.25, 136.18, 136.31, 136.10, 136.17, 136.26, 136.12, 136.33, 136.23, 136.15, 136.30, 136.07, 136.22, 136.28],
  [136.20, 136.17, 136.10, 136.26, 136.20, 136.33, 136.12, 136.25, 136.18, 136.09, 136.30, 136.23, 136.15, 136.28, 136.07, 136.22, 136.14, 136.31, 136.25, 136.17, 136.20, 136.30, 136.06, 136.22, 136.26, 136.12, 136.23, 136.20, 136.31, 136.14]
];

////////////////////////////// y tick values
const dAlphaTicks = [4.00, 4.25, 4.50];
const dDeltaTicks = [2.25, 2.50, 2.75];
const parallaxTicks = [1.50, 1.75, 2.00];
const pmRaTicks = [-28.50, -28.25, -28.00];
const pmDecTicks = [-155.50, -155.25, -155.00];
const logPTicks = [3.600, 3.625, 3.650];
const eccTicks = [0.72, 0.74];
const tauTicks = [0.050, 0.055, 0.060];
const logA0Ticks = [1.42, 1.44, 1.46];
const inclTicks = [110.0, 110.5, 111.0];
const omegaTicks = [77, 78];
const bigOmegaTicks = [136.0, 136.5];

// label pieces: [text, style]  style: '' upright, 'i' italic, 's' italic subscript, 'S' upright subscript
const panels = [
  { walkers: dAlpha, min: 3.93, max: 4.63, ticks: dAlphaTicks, dec: 2, minor: 5, label: [['Δ', ''], ['α', 'i'], [' (mas)', '']] },
  { walkers: dDelta, min: 2.085, max: 2.785, ticks: dDeltaTicks, dec: 2, minor: 5, label: [['Δ', ''], ['δ', 'i'], [' (mas)', '']] },
  { walkers: parallax, min: 1.285, max: 2.01, ticks: parallaxTicks, dec: 2, minor: 5, label: [['ϖ', 'i'], [' (mas)', '']] },
  { walkers: pmRa, min: -28.61, max: -27.985, ticks: pmRaTicks, dec: 2, minor: 5, label: [['μ', 'i'], ['α', 's'], [' (mas/yr)', '']] },
  { walkers: pmDec, min: -155.53, max: -154.80, ticks: pmDecTicks, dec: 2, minor: 5, label: [['μ', 'i'], ['δ', 's'], [' (mas/yr)', '']] },
  { walkers: logP, min: 3.590, max: 3.6636, ticks: logPTicks, dec: 3, minor: 5, label: [['log ', ''], ['P', 'i'], ['/days', '']] },
  { walkers: ecc, min: 0.7033, max: 0.750, ticks: eccTicks, dec: 2, minor: 4, label: [['e', 'i']] },
  { walkers: tau, min: 0.04995, max: 0.0618, ticks: tauTicks, dec: 3, minor: 5, label: [['τ', 'i']] },
  { walkers: logA0, min: 1.4044, max: 1.4625, ticks: logA0Ticks, dec: 2, minor: 4, label: [['log ', ''], ['a', 'i'], ['0', 'S'], ['/mas', '']] },
  { walkers: incl, min: 110.0, max: 111.13, ticks: inclTicks, dec: 1, minor: 5, label: [['i', 'i'], [' (deg)', '']] },
  { walkers: omega, min: 77.0, max: 78.67, ticks: omegaTicks, dec: 0, minor: 5, label: [['ω', 'i'], [' (deg)', '']] },
  { walkers: bigOmega, min: 135.51, max: 136.93, ticks: bigOmegaTicks, dec: 1, minor: 5, label: [['Ω', ''], [' (deg)', '']] }
];

const FONT = "'DejaVu Serif', serif";
const TICK_SIZE = 13.5;
const LABEL_SIZE = 16;

function fmt(v, dec) {
  return v.toFixed(dec).replace('-', '\u2212');
}

// matplotlib-like frame: inward ticks on all four sides + rotated y label
const mplAxes = {
  id: 'mplAxes',
  afterDraw(chart, args, opts) {
    const p = opts.panel;
    const ctx = chart.ctx;
    const a = chart.chartArea;
    const xs = chart.scales.x, ys = chart.scales.y;
    ctx.save();
    ctx.strokeStyle = '#000';
    ctx.lineWidth = 1;
    ctx.beginPath();
    // x ticks top and bottom, major every 200 and minor every 50
    for (let k = 0; k <= 20; k++) {
      const v = k * 50;
      const len = (k % 4 === 0) ? 5 : 2.5;
      const px = Math.round(xs.getPixelForValue(v)) + 0.5;
      ctx.moveTo(px, a.top); ctx.lineTo(px, a.top + len);
      ctx.moveTo(px, a.bottom); ctx.lineTo(px, a.bottom - len);
    }
    // y ticks left and right
    const step = p.ticks[1] - p.ticks[0];
    const mstep = step / p.minor;
    const base = p.ticks[0];
    const kLo = Math.ceil((p.min - base) / mstep - 1e-6);
    const kHi = Math.floor((p.max - base) / mstep + 1e-6);
    for (let k = kLo; k <= kHi; k++) {
      const v = base + k * mstep;
      const major = ((k % p.minor) + p.minor) % p.minor === 0;
      const len = major ? 5 : 2.5;
      const py = Math.round(ys.getPixelForValue(v)) + 0.5;
      ctx.moveTo(a.left, py); ctx.lineTo(a.left + len, py);
      ctx.moveTo(a.right, py); ctx.lineTo(a.right - len, py);
    }
    ctx.stroke();
    ctx.lineWidth = 1.4;
    ctx.strokeRect(a.left, a.top, a.right - a.left, a.bottom - a.top);

    // y label, placed left of the widest tick label
    ctx.font = TICK_SIZE + 'px ' + FONT;
    let maxW = 0;
    p.ticks.forEach(t => { maxW = Math.max(maxW, ctx.measureText(fmt(t, p.dec)).width); });
    const right = a.left - 5 - maxW - 6;
    const fontOf = s => {
      const size = (s === 's' || s === 'S') ? LABEL_SIZE * 0.7 : LABEL_SIZE;
      return ((s === 'i' || s === 's') ? 'italic ' : '') + size + 'px ' + FONT;
    };
    let total = 0;
    p.label.forEach(seg => { ctx.font = fontOf(seg[1]); total += ctx.measureText(seg[0]).width; });
    ctx.translate(right, (a.top + a.bottom) / 2);
    ctx.rotate(-Math.PI / 2);
    ctx.fillStyle = '#111';
    ctx.textBaseline = 'alphabetic';
    ctx.textAlign = 'left';
    let cx = -total / 2;
    p.label.forEach(seg => {
      ctx.font = fontOf(seg[1]);
      const sub = (seg[1] === 's' || seg[1] === 'S') ? 3 : 0;
      ctx.fillText(seg[0], cx, -4 + sub);
      cx += ctx.measureText(seg[0]).width;
    });
    ctx.restore();
  }
};

panels.forEach((p, k) => {
  const cv = document.createElement('canvas');
  cv.width = 498;
  cv.height = 130;
  cv.style.top = Math.round(k * 130.3) + 'px';
  document.body.appendChild(cv);

  const datasets = p.walkers.map(w => ({
    data: w.map((y, i) => ({ x: steps[i], y: y })),
    borderColor: 'rgba(148, 103, 189, 0.38)',
    borderWidth: 1.8,
    borderJoinStyle: 'miter',
    pointRadius: 0,
    tension: 0,
    fill: false
  }));

  new Chart(cv, {
    type: 'line',
    data: { datasets: datasets },
    plugins: [mplAxes],
    options: {
      responsive: false,
      animation: false,
      events: [],
      layout: { padding: { top: 10, right: 8, bottom: 12, left: 0 } },
      plugins: {
        legend: { display: false },
        tooltip: { enabled: false },
        mplAxes: { panel: p }
      },
      scales: {
        x: { type: 'linear', min: 0, max: 1000, display: false },
        y: {
          type: 'linear',
          min: p.min,
          max: p.max,
          afterFit: s => { s.width = 101; },
          afterBuildTicks: s => { s.ticks = p.ticks.map(v => ({ value: v })); },
          grid: { display: false, drawTicks: false },
          border: { display: false },
          ticks: {
            padding: 5,
            color: '#111',
            font: { family: FONT, size: TICK_SIZE },
            callback: v => fmt(v, p.dec)
          }
        }
      }
    }
  });
});
</script>
</body>
</html>
